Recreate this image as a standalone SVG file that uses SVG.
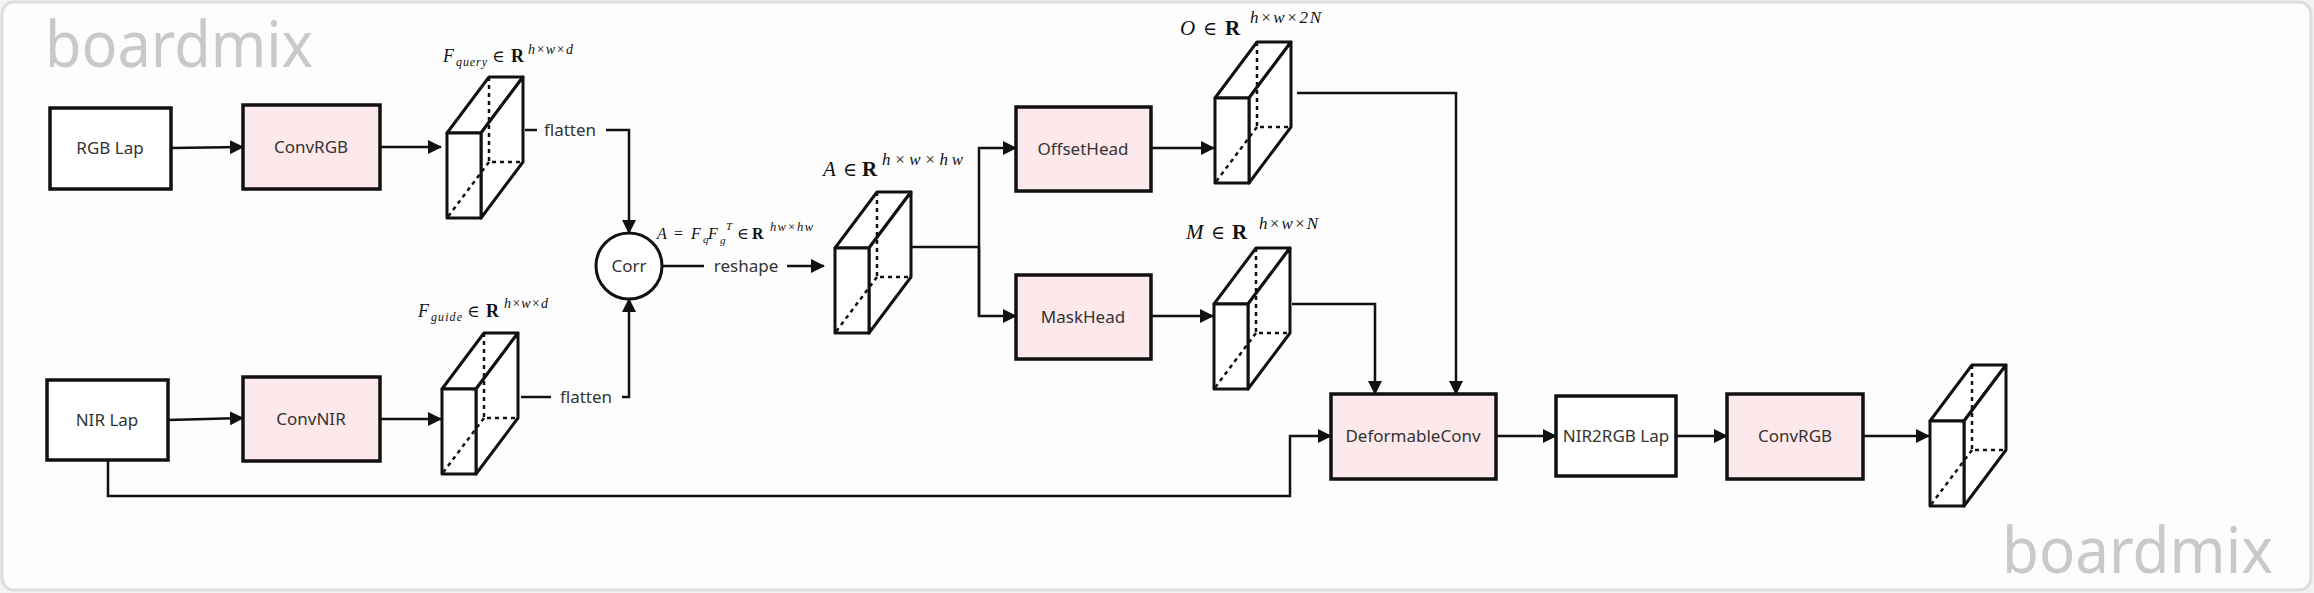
<svg xmlns="http://www.w3.org/2000/svg" xmlns:xlink="http://www.w3.org/1999/xlink" width="2314" height="593" viewBox="0 0 2314 593">
<defs>
<style>
.box{stroke:#111;stroke-width:3.5}
.w{fill:#fff}
.p{fill:#fde9ec}
.lbl{font-family:"Noto Sans","Open Sans",sans-serif;font-size:17px;fill:#333;text-anchor:middle}
.conn{fill:none;stroke:#111;stroke-width:2.5}
.m{font-family:"Liberation Serif","DejaVu Serif",serif;fill:#111}
.i{font-style:italic}
.b{font-weight:bold}
.wm{font-family:"Noto Sans","Open Sans",sans-serif;font-size:64px;fill:#c9c9c9}
.cs{fill:#fff;stroke:#111;stroke-width:3;stroke-linejoin:round}
.cd{fill:none;stroke:#111;stroke-width:2.5;stroke-dasharray:4 4}
</style>
<marker id="ah" markerUnits="userSpaceOnUse" markerWidth="14" markerHeight="14" refX="13" refY="7" orient="auto">
<path d="M0,0 L14,7 L0,14 Z" fill="#111"/>
</marker>
<g id="cube">
<polygon class="cs" points="0,0 42,-56 76,-56 34,0"/>
<polygon class="cs" points="34,0 76,-56 76,29 34,85"/>
<rect class="cs" x="0" y="0" width="34" height="85"/>
<path class="cd" d="M42,-56 V29 H76 M42,29 L0,85"/>
</g>
</defs>
<rect x="0" y="0" width="2314" height="593" fill="#f3f3f3"/>
<rect x="2" y="2" width="2309" height="588" rx="12" fill="#fdfdfd" stroke="#dddddd" stroke-width="3"/>
<text class="wm" x="45" y="67" textLength="268" lengthAdjust="spacingAndGlyphs">boardmix</text>
<text class="wm" x="2002" y="573" textLength="271" lengthAdjust="spacingAndGlyphs">boardmix</text>

<g id="connectors">
<path class="conn" d="M171,148 L243,147" marker-end="url(#ah)"/>
<path class="conn" d="M380,147 L441,147" marker-end="url(#ah)"/>
<path class="conn" d="M525,130 H537"/>
<path class="conn" d="M606,130 H629 V233" marker-end="url(#ah)"/>
<path class="conn" d="M168,420 L243,418" marker-end="url(#ah)"/>
<path class="conn" d="M380,419 L441,419" marker-end="url(#ah)"/>
<path class="conn" d="M521,397 H551"/>
<path class="conn" d="M622,397 H629 V299" marker-end="url(#ah)"/>
<path class="conn" d="M662,266 H704"/>
<path class="conn" d="M787,266 H824" marker-end="url(#ah)"/>
<path class="conn" d="M910,247 H979"/>
<path class="conn" d="M979,316 V148 H1016" marker-end="url(#ah)"/>
<path class="conn" d="M979,247 V316 H1016" marker-end="url(#ah)"/>
<path class="conn" d="M1151,148 H1214" marker-end="url(#ah)"/>
<path class="conn" d="M1151,316 H1213" marker-end="url(#ah)"/>
<path class="conn" d="M1297,93 H1456 V394" marker-end="url(#ah)"/>
<path class="conn" d="M1292,304 H1375 V394" marker-end="url(#ah)"/>
<path class="conn" d="M108,460 V496 H1290 V436 H1331" marker-end="url(#ah)"/>
<path class="conn" d="M1496,436 H1556" marker-end="url(#ah)"/>
<path class="conn" d="M1676,436 H1727" marker-end="url(#ah)"/>
<path class="conn" d="M1863,436 H1929" marker-end="url(#ah)"/>
<text class="lbl" x="570" y="136">flatten</text>
<text class="lbl" x="586" y="403">flatten</text>
<text class="lbl" x="746" y="272">reshape</text>
</g>

<g id="rgb-lap"><rect class="box w" x="50" y="108" width="121" height="81"/><text class="lbl" x="110" y="154">RGB Lap</text></g>
<g id="conv-rgb"><rect class="box p" x="243" y="105" width="137" height="84"/><text class="lbl" x="311" y="153">ConvRGB</text></g>
<g id="nir-lap"><rect class="box w" x="47" y="380" width="121" height="80"/><text class="lbl" x="107" y="426">NIR Lap</text></g>
<g id="conv-nir"><rect class="box p" x="243" y="377" width="137" height="84"/><text class="lbl" x="311" y="425">ConvNIR</text></g>
<g id="corr"><circle cx="629" cy="266" r="33" fill="#fff" stroke="#111" stroke-width="3"/><text class="lbl" x="629" y="272">Corr</text></g>
<g id="offset-head"><rect class="box p" x="1016" y="107" width="135" height="84"/><text class="lbl" x="1083" y="155">OffsetHead</text></g>
<g id="mask-head"><rect class="box p" x="1016" y="275" width="135" height="84"/><text class="lbl" x="1083" y="323">MaskHead</text></g>
<g id="deformable-conv"><rect class="box p" x="1331" y="394" width="165" height="85"/><text class="lbl" x="1413" y="442">DeformableConv</text></g>
<g id="nir2rgb-lap"><rect class="box w" x="1556" y="396" width="120" height="80"/><text class="lbl" x="1616" y="442">NIR2RGB Lap</text></g>
<g id="conv-rgb-2"><rect class="box p" x="1727" y="394" width="136" height="85"/><text class="lbl" x="1795" y="442">ConvRGB</text></g>

<g id="cube-query"><use xlink:href="#cube" href="#cube" x="447" y="133"/></g>
<g id="cube-guide"><use xlink:href="#cube" href="#cube" x="442" y="389"/></g>
<g id="cube-a"><use xlink:href="#cube" href="#cube" x="835" y="248"/></g>
<g id="cube-o"><use xlink:href="#cube" href="#cube" x="1215" y="98"/></g>
<g id="cube-m"><use xlink:href="#cube" href="#cube" x="1214" y="304"/></g>
<g id="cube-out"><use xlink:href="#cube" href="#cube" x="1930" y="421"/></g>

<g id="label-fquery" class="m">
<text class="i" x="443" y="62" font-size="18">F</text>
<text class="i" x="456" y="66" font-size="12" textLength="31" lengthAdjust="spacing">query</text>
<text x="492" y="62" font-size="17">∈</text>
<text class="b" x="511" y="62" font-size="18">R</text>
<text class="i" x="528" y="54" font-size="14" textLength="45" lengthAdjust="spacing">h×w×d</text>
</g>
<g id="label-fguide" class="m">
<text class="i" x="418" y="317" font-size="18">F</text>
<text class="i" x="431" y="321" font-size="12" textLength="31" lengthAdjust="spacing">guide</text>
<text x="467" y="317" font-size="17">∈</text>
<text class="b" x="486" y="317" font-size="18">R</text>
<text class="i" x="504" y="308" font-size="14" textLength="44" lengthAdjust="spacing">h×w×d</text>
</g>
<g id="label-corr" class="m">
<text class="i" x="657" y="239" font-size="16">A</text>
<text x="674" y="239" font-size="16">=</text>
<text class="i" x="691" y="239" font-size="16">F</text>
<text class="i" x="703" y="243" font-size="11">q</text>
<text class="i" x="708" y="239" font-size="16">F</text>
<text class="i" x="720" y="244" font-size="11">g</text>
<text class="i" x="726" y="230" font-size="11">T</text>
<text x="737" y="239" font-size="16">∈</text>
<text class="b" x="752" y="239" font-size="16">R</text>
<text class="i" x="770" y="231" font-size="12.5" textLength="43" lengthAdjust="spacing">hw×hw</text>
</g>
<g id="label-a" class="m">
<text class="i" x="823" y="176" font-size="21">A</text>
<text x="843" y="176" font-size="19">∈</text>
<text class="b" x="862" y="176" font-size="21">R</text>
<text class="i" x="882" y="165" font-size="17" textLength="81" lengthAdjust="spacing">h×w×hw</text>
</g>
<g id="label-o" class="m">
<text class="i" x="1180" y="35" font-size="21">O</text>
<text x="1203" y="35" font-size="19">∈</text>
<text class="b" x="1225" y="35" font-size="21">R</text>
<text class="i" x="1250" y="23" font-size="17" textLength="71" lengthAdjust="spacing">h×w×2N</text>
</g>
<g id="label-m" class="m">
<text class="i" x="1186" y="239" font-size="21">M</text>
<text x="1211" y="239" font-size="19">∈</text>
<text class="b" x="1232" y="239" font-size="21">R</text>
<text class="i" x="1259" y="229" font-size="17" textLength="59" lengthAdjust="spacing">h×w×N</text>
</g>
</svg>
